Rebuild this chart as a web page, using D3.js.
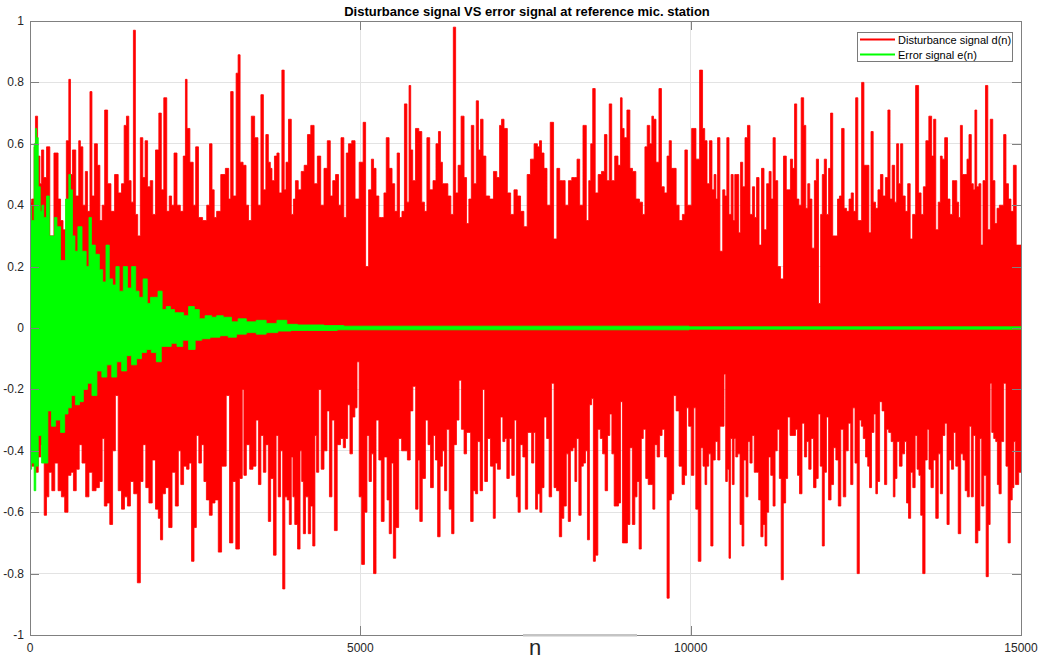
<!DOCTYPE html>
<html lang="en">
<head>
<meta charset="UTF-8">
<title>Disturbance signal VS error signal</title>
<style>
    body { margin: 0; background: #fff; }
    svg { display: block; font-family: "Liberation Sans", Arial, sans-serif; }
    .grid line { stroke: #e3e3e3; stroke-width: 1; shape-rendering: crispEdges; }
    .tick-label { font-size: 12px; fill: #262626; }
</style>
</head>
<body>
<svg id="chart" width="1050" height="661"></svg>
<script src="https://d3js.org/d3.v7.min.js"></script>
<script>
// [sample n, value]: upper peaks of d(n)
const dUpper = [[0,0.41],[50,0.42],[75,0.59],[90,0.69],[140,0.56],[160,0.47],[190,0.58],[225,0.49],[275,0.59],[325,0.3],[400,0.57],[450,0.42],[475,0.35],[525,0.32],[575,0.61],[600,0.81],[625,0.5],[660,0.58],[725,0.43],[750,0.61],[775,0.59],[825,0.4],[850,0.51],[890,0.38],[925,0.77],[950,0.43],[1000,0.6],[1040,0.53],[1075,0.35],[1110,0.4],[1150,0.71],[1200,0.47],[1250,0.38],[1310,0.5],[1360,0.44],[1410,0.47],[1440,0.66],[1480,0.69],[1510,0.48],[1550,0.41],[1580,0.97],[1610,0.37],[1650,0.3],[1690,0.62],[1725,0.49],[1760,0.61],[1800,0.46],[1840,0.48],[1875,0.37],[1925,0.58],[1975,0.7],[2000,0.45],[2050,0.75],[2090,0.38],[2125,0.43],[2160,0.4],[2200,0.57],[2250,0.4],[2300,0.38],[2340,0.56],[2365,0.81],[2390,0.65],[2450,0.54],[2490,0.4],[2525,0.59],[2575,0.36],[2650,0.35],[2700,0.4],[2735,0.6],[2775,0.45],[2800,0.36],[2850,0.38],[2925,0.5],[2990,0.52],[3025,0.42],[3050,0.77],[3100,0.43],[3140,0.83],[3160,0.89],[3200,0.54],[3250,0.53],[3290,0.4],[3325,0.35],[3375,0.69],[3425,0.62],[3475,0.4],[3515,0.76],[3550,0.45],[3590,0.63],[3625,0.54],[3650,0.52],[3675,0.48],[3725,0.56],[3750,0.57],[3790,0.44],[3835,0.84],[3860,0.45],[3890,0.54],[3935,0.68],[3975,0.37],[4000,0.42],[4035,0.48],[4085,0.45],[4125,0.51],[4175,0.53],[4225,0.63],[4275,0.66],[4325,0.47],[4375,0.56],[4425,0.4],[4475,0.52],[4525,0.61],[4565,0.43],[4600,0.48],[4650,0.5],[4690,0.4],[4725,0.62],[4775,0.36],[4800,0.57],[4840,0.6],[4900,0.61],[4940,0.42],
  [5025,0.54],[5060,0.67],[5100,0.2],[5150,0.45],[5185,0.55],[5215,0.52],[5260,0.43],[5300,0.36],[5340,0.36],[5375,0.44],[5410,0.62],[5460,0.52],[5500,0.47],[5540,0.38],[5575,0.57],[5610,0.36],[5650,0.38],[5685,0.73],[5725,0.41],[5750,0.79],[5775,0.58],[5810,0.48],[5860,0.65],[5910,0.64],[5950,0.41],[5990,0.38],[6025,0.62],[6075,0.45],[6125,0.48],[6165,0.6],[6200,0.64],[6225,0.54],[6260,0.47],[6300,0.47],[6350,0.43],[6390,0.37],[6425,0.98],[6460,0.44],[6500,0.53],[6550,0.69],[6590,0.49],[6625,0.34],[6660,0.42],[6700,0.66],[6735,0.47],[6775,0.74],[6800,0.58],[6840,0.68],[6875,0.56],[6925,0.43],[6990,0.42],[7040,0.51],[7090,0.49],[7125,0.66],[7150,0.68],[7200,0.65],[7250,0.44],[7300,0.37],[7350,0.45],[7400,0.43],[7450,0.38],[7500,0.33],[7550,0.5],[7600,0.55],[7660,0.6],[7700,0.59],[7725,0.61],[7760,0.57],[7800,0.52],[7850,0.4],[7900,0.67],[7950,0.29],[8000,0.52],[8035,0.48],[8075,0.48],[8125,0.4],[8175,0.48],[8225,0.49],[8260,0.49],[8300,0.55],[8340,0.4],[8400,0.66],[8440,0.35],[8475,0.48],[8500,0.6],[8535,0.78],[8575,0.44],[8625,0.5],[8675,0.51],[8715,0.63],[8750,0.48],[8785,0.73],[8825,0.48],[8875,0.56],[8925,0.53],[8950,0.75],[8975,0.65],[9010,0.62],[9060,0.71],[9100,0.52],[9140,0.51],[9200,0.42],[9250,0.41],[9290,0.37],[9325,0.59],[9360,0.66],[9400,0.6],[9425,0.69],[9450,0.68],[9500,0.54],[9540,0.78],[9575,0.46],[9625,0.44],[9660,0.56],[9690,0.61],[9725,0.52],[9760,0.52],[9800,0.4],[9850,0.35],[9900,0.37],[9925,0.58],[9975,0.4],
  [10055,0.65],[10105,0.55],[10165,0.84],[10195,0.65],[10230,0.61],[10265,0.47],[10305,0.61],[10340,0.45],[10370,0.5],[10395,0.42],[10420,0.62],[10465,0.25],[10505,0.45],[10530,0.43],[10565,0.62],[10595,0.37],[10630,0.5],[10655,0.35],[10680,0.5],[10715,0.5],[10740,0.31],[10770,0.54],[10805,0.46],[10840,0.62],[10880,0.66],[10915,0.37],[10955,0.46],[10980,0.36],[11015,0.49],[11055,0.27],[11090,0.52],[11130,0.32],[11170,0.47],[11205,0.51],[11230,0.42],[11265,0.62],[11295,0.48],[11340,0.2],[11380,0.16],[11430,0.56],[11465,0.45],[11490,0.45],[11530,0.55],[11555,0.52],[11590,0.73],[11620,0.42],[11655,0.4],[11690,0.75],[11730,0.66],[11755,0.39],[11790,0.47],[11815,0.42],[11855,0.26],[11890,0.48],[11915,0.55],[11955,0.08],[11980,0.37],[12005,0.5],[12040,0.55],[12070,0.37],[12105,0.52],[12130,0.7],[12170,0.3],[12205,0.3],[12240,0.42],[12265,0.43],[12305,0.65],[12340,0.39],[12380,0.38],[12415,0.42],[12445,0.44],[12480,0.38],[12515,0.75],[12545,0.35],[12570,0.35],[12605,0.8],[12640,0.53],[12680,0.53],[12715,0.31],[12745,0.64],[12780,0.41],[12815,0.39],[12855,0.45],[12890,0.5],[12930,0.43],[12965,0.49],[13005,0.71],[13030,0.42],[13070,0.53],[13105,0.41],[13130,0.6],[13165,0.47],[13190,0.6],[13230,0.43],[13265,0.38],[13305,0.47],[13340,0.29],[13380,0.37],[13430,0.79],[13470,0.44],[13505,0.37],[13540,0.46],[13580,0.61],[13630,0.69],[13665,0.56],[13690,0.68],[13730,0.32],[13765,0.41],[13795,0.56],[13820,0.55],[13870,0.62],[13905,0.42],[13945,0.37],[13980,0.48],[14015,0.48],[14040,0.41],[14070,0.36],[14095,0.66],[14130,0.5],[14170,0.5],[14195,0.55],[14230,0.63],[14265,0.47],[14290,0.45],[14315,0.71],[14345,0.46],[14380,0.47],[14405,0.27],[14445,0.48],[14480,0.79],[14515,0.32],[14555,0.68],[14590,0.48],[14620,0.34],[14655,0.39],[14690,0.4],[14720,0.4],[14755,0.63],[14790,0.47],[14830,0.42],[14865,0.38],[14905,0.53],[14950,0.27],[15000,0.27]];

// lower peaks of d(n)
const dLower = [[0,-0.42],[50,-0.45],[110,-0.47],[140,-0.42],[190,-0.38],[240,-0.61],[260,-0.55],[310,-0.47],[350,-0.53],[400,-0.44],[450,-0.53],[500,-0.55],[550,-0.6],[600,-0.48],[640,-0.47],[675,-0.53],[725,-0.46],[765,-0.38],[810,-0.44],[875,-0.55],[910,-0.47],[975,-0.53],[1025,-0.52],[1075,-0.5],[1110,-0.36],[1140,-0.58],[1190,-0.57],[1225,-0.64],[1275,-0.4],[1310,-0.22],[1360,-0.53],[1410,-0.59],[1450,-0.55],[1500,-0.58],[1540,-0.5],[1600,-0.54],[1650,-0.83],[1690,-0.5],[1730,-0.38],[1775,-0.52],[1825,-0.57],[1875,-0.43],[1925,-0.59],[1960,-0.62],[1990,-0.69],[2025,-0.54],[2075,-0.52],[2125,-0.65],[2175,-0.47],[2225,-0.58],[2265,-0.4],[2300,-0.51],[2350,-0.45],[2390,-0.46],[2425,-0.44],[2465,-0.76],[2500,-0.65],[2535,-0.35],[2575,-0.44],[2615,-0.38],[2650,-0.5],[2690,-0.56],[2740,-0.61],[2775,-0.57],[2825,-0.56],[2875,-0.73],[2925,-0.45],[2950,-0.45],[2990,-0.22],[3050,-0.7],[3090,-0.5],[3140,-0.72],[3200,-0.49],[3225,-0.2],[3250,-0.48],[3300,-0.38],[3350,-0.46],[3400,-0.45],[3440,-0.3],[3475,-0.51],[3515,-0.35],[3550,-0.47],[3590,-0.38],[3625,-0.63],[3660,-0.49],[3710,-0.74],[3740,-0.35],[3775,-0.55],[3810,-0.4],[3840,-0.85],[3875,-0.55],[3910,-0.56],[3940,-0.64],[3970,-0.42],[3990,-0.55],[4025,-0.64],[4075,-0.72],[4100,-0.4],[4125,-0.5],[4150,-0.67],[4190,-0.55],[4235,-0.67],[4260,-0.58],[4300,-0.71],[4325,-0.35],[4350,-0.47],[4390,-0.2],[4425,-0.46],[4475,-0.4],[4515,-0.27],[4550,-0.55],[4590,-0.3],[4625,-0.66],[4675,-0.38],
  [4725,-0.36],[4760,-0.39],[4790,-0.36],[4825,-0.25],[4860,-0.41],[4900,-0.29],[4935,-0.26],[4965,-0.11],[5000,-0.55],[5040,-0.77],[5085,-0.6],[5115,-0.35],[5150,-0.5],[5185,-0.41],[5215,-0.8],[5260,-0.3],[5300,-0.43],[5335,-0.63],[5385,-0.42],[5425,-0.56],[5450,-0.67],[5490,-0.44],[5510,-0.75],[5560,-0.65],[5600,-0.36],[5650,-0.4],[5690,-0.4],[5735,-0.43],[5775,-0.27],[5815,-0.19],[5860,-0.59],[5885,-0.43],[5915,-0.63],[5960,-0.49],[6010,-0.3],[6040,-0.38],[6085,-0.52],[6125,-0.35],[6150,-0.43],[6190,-0.68],[6225,-0.45],[6260,-0.4],[6290,-0.53],[6325,-0.33],[6365,-0.59],[6400,-0.67],[6435,-0.38],[6475,-0.3],[6510,-0.17],[6550,-0.33],[6590,-0.41],[6625,-0.34],[6650,-0.34],[6690,-0.63],[6725,-0.53],[6760,-0.54],[6790,-0.37],[6835,-0.53],[6865,-0.2],[6900,-0.5],[6950,-0.36],[6990,-0.45],[7035,-0.62],[7050,-0.44],[7100,-0.46],[7140,-0.29],[7175,-0.37],[7200,-0.36],[7235,-0.49],[7275,-0.36],[7310,-0.48],[7350,-0.3],[7375,-0.55],[7400,-0.6],[7440,-0.38],[7480,-0.42],[7515,-0.59],[7550,-0.34],[7575,-0.34],[7610,-0.44],[7640,-0.34],[7665,-0.59],[7700,-0.54],[7735,-0.6],[7760,-0.52],[7800,-0.29],[7840,-0.36],[7875,-0.55],[7915,-0.18],[7950,-0.52],[7990,-0.53],[8035,-0.68],[8060,-0.62],[8100,-0.58],[8135,-0.41],[8160,-0.63],[8200,-0.4],[8235,-0.39],[8260,-0.5],[8290,-0.36],[8325,-0.61],[8360,-0.45],[8390,-0.44],[8425,-0.4],[8450,-0.69],[8485,-0.25],[8515,-0.23],[8540,-0.76],[8575,-0.74],[8615,-0.33],[8650,-0.36],[8685,-0.41],[8725,-0.53],[8760,-0.35],[8790,-0.28],[8825,-0.41],[8860,-0.58],[8890,-0.58],[8925,-0.57],[8950,-0.24],[8985,-0.7],[9025,-0.7],[9060,-0.64],[9100,-0.39],[9135,-0.64],[9175,-0.55],[9200,-0.5],[9240,-0.72],[9265,-0.36],[9300,-0.33],[9340,-0.49],[9375,-0.51],[9415,-0.51],[9440,-0.59],[9475,-0.38],[9510,-0.42],[9550,-0.35],[9585,-0.33],[9625,-0.42],[9660,-0.88],[9690,-0.56],[9725,-0.54],[9760,-0.22],[9800,-0.27],[9850,-0.45],[9890,-0.51],[9925,-0.48],[9950,-0.26],[9990,-0.32],
  [10030,-0.48],[10065,-0.26],[10090,-0.59],[10140,-0.76],[10170,-0.39],[10205,-0.45],[10230,-0.51],[10255,-0.45],[10290,-0.41],[10320,-0.71],[10355,-0.43],[10390,-0.37],[10430,-0.43],[10455,-0.32],[10490,-0.32],[10520,-0.15],[10540,-0.5],[10570,-0.46],[10590,-0.75],[10615,-0.36],[10645,-0.51],[10670,-0.36],[10695,-0.42],[10730,-0.41],[10765,-0.64],[10790,-0.71],[10820,-0.43],[10855,-0.55],[10880,-0.37],[10915,-0.44],[10945,-0.35],[10980,-0.47],[11015,-0.47],[11045,-0.56],[11080,-0.68],[11110,-0.64],[11140,-0.71],[11165,-0.6],[11195,-0.42],[11230,-0.48],[11265,-0.58],[11290,-0.4],[11330,-0.33],[11355,-0.49],[11385,-0.82],[11420,-0.57],[11455,-0.49],[11480,-0.29],[11530,-0.35],[11570,-0.35],[11605,-0.33],[11630,-0.48],[11665,-0.54],[11705,-0.31],[11740,-0.42],[11770,-0.37],[11805,-0.46],[11840,-0.36],[11880,-0.52],[11915,-0.49],[11945,-0.28],[11980,-0.45],[12005,-0.71],[12040,-0.47],[12070,-0.29],[12105,-0.56],[12145,-0.51],[12180,-0.39],[12215,-0.43],[12255,-0.58],[12290,-0.33],[12330,-0.55],[12365,-0.4],[12405,-0.31],[12440,-0.51],[12470,-0.26],[12505,-0.44],[12535,-0.8],[12570,-0.3],[12595,-0.32],[12630,-0.36],[12665,-0.42],[12695,-0.45],[12720,-0.52],[12755,-0.34],[12790,-0.28],[12815,-0.54],[12840,-0.5],[12880,-0.24],[12915,-0.27],[12955,-0.51],[12980,-0.33],[13015,-0.34],[13055,-0.37],[13080,-0.55],[13105,-0.49],[13140,-0.37],[13180,-0.45],[13220,-0.41],[13255,-0.37],[13280,-0.57],[13315,-0.62],[13345,-0.47],[13380,-0.52],[13415,-0.35],[13440,-0.46],[13470,-0.48],[13495,-0.61],[13530,-0.8],[13565,-0.43],[13595,-0.33],[13620,-0.46],[13655,-0.52],[13690,-0.43],[13730,-0.62],[13765,-0.41],[13795,-0.54],[13830,-0.35],[13865,-0.31],[13895,-0.64],[13930,-0.43],[13965,-0.46],[13995,-0.34],[14030,-0.45],[14070,-0.67],[14105,-0.41],[14140,-0.43],[14170,-0.53],[14205,-0.55],[14230,-0.32],[14265,-0.55],[14290,-0.35],[14330,-0.7],[14365,-0.66],[14390,-0.36],[14420,-0.58],[14455,-0.48],[14490,-0.81],[14520,-0.64],[14545,-0.18],[14570,-0.34],[14605,-0.36],[14630,-0.37],[14655,-0.51],[14680,-0.54],[14720,-0.37],[14755,-0.18],[14790,-0.45],[14820,-0.7],[14855,-0.56],[14880,-0.52],[14905,-0.37],[14930,-0.51],[15000,-0.47]];

// upper and lower envelope of e(n)
const eUpper = [[0,0.4],[50,0.35],[75,0.6],[90,0.65],[110,0.62],[140,0.46],[170,0.38],[190,0.4],[225,0.36],[275,0.43],[310,0.3],[350,0.3],[390,0.36],[425,0.33],[500,0.22],[575,0.42],[600,0.5],[625,0.45],[660,0.3],[700,0.25],[750,0.33],[825,0.25],[875,0.2],[910,0.36],[950,0.27],[1025,0.24],[1075,0.19],[1125,0.15],[1175,0.27],[1225,0.16],[1275,0.14],[1325,0.2],[1375,0.12],[1450,0.2],[1500,0.13],[1575,0.2],[1625,0.12],[1675,0.1],[1750,0.16],[1800,0.08],[1850,0.1],[1900,0.1],[1975,0.12],[2025,0.06],[2100,0.07],[2150,0.06],[2225,0.05],[2300,0.05],[2350,0.04],[2450,0.07],[2525,0.06],[2600,0.03],[2700,0.04],[2800,0.035],[2850,0.04],[3000,0.035],[3100,0.02],[3200,0.03],[3350,0.02],[3500,0.025],[3650,0.015],[3825,0.025],[3950,0.012],[4150,0.01],[4350,0.01],[4550,0.008],[4950,0.006],[15000,0.004]];

const eLower = [[0,-0.46],[50,-0.44],[75,-0.53],[100,-0.45],[150,-0.35],[200,-0.44],[240,-0.44],[300,-0.27],[350,-0.32],[425,-0.3],[500,-0.34],[550,-0.28],[600,-0.26],[650,-0.22],[725,-0.25],[775,-0.24],[840,-0.2],[900,-0.18],[975,-0.22],[1050,-0.14],[1125,-0.16],[1200,-0.12],[1275,-0.16],[1350,-0.11],[1425,-0.14],[1500,-0.09],[1575,-0.12],[1650,-0.1],[1725,-0.08],[1800,-0.07],[1875,-0.08],[1950,-0.11],[2025,-0.06],[2100,-0.06],[2175,-0.05],[2275,-0.06],[2350,-0.04],[2450,-0.07],[2550,-0.04],[2650,-0.035],[2800,-0.03],[2950,-0.025],[3050,-0.03],[3200,-0.02],[3350,-0.015],[3500,-0.02],[3650,-0.015],[3850,-0.01],[4050,-0.008],[4350,-0.008],[4950,-0.006],[15000,-0.004]];

const xTicks = [0, 5000, 10000, 15000];
const yTicks = [-1, -0.8, -0.6, -0.4, -0.2, 0, 0.2, 0.4, 0.6, 0.8, 1];
const legendItems = [
    { label: "Disturbance signal d(n)", color: "#ff0000" },
    { label: "Error signal e(n)", color: "#00ff00" }
];

const svg = d3.select("#chart");
const margin = { left: 30, right: 29, top: 21, bottom: 26 };
const W = 1050, H = 661;

const x = d3.scaleLinear().domain([0, 15000]).range([margin.left, W - margin.right]);
const y = d3.scaleLinear().domain([-1, 1]).range([H - margin.bottom, margin.top]);

svg.append("clipPath").attr("id", "plotClip")
    .append("rect")
    .attr("x", x(0)).attr("y", y(1))
    .attr("width", x(15000) - x(0)).attr("height", y(-1) - y(1));

// grid
const grid = svg.append("g").attr("class", "grid");
grid.selectAll(".gy").data(yTicks).enter().append("line")
    .attr("x1", x(0)).attr("x2", x(15000))
    .attr("y1", d => y(d)).attr("y2", d => y(d));
grid.selectAll(".gx").data(xTicks).enter().append("line")
    .attr("y1", y(-1)).attr("y2", y(1))
    .attr("x1", d => x(d)).attr("x2", d => x(d));

const plot = svg.append("g").attr("clip-path", "url(#plotClip)");

function envelope(data, color) {
    const area = d3.area()
        .curve(d3.curveStep)
        .x(d => x(d[0]))
        .y0(y(0))
        .y1(d => y(d[1]));
    plot.append("path")
        .datum(data)
        .attr("d", area)
        .attr("fill", color)
        .attr("stroke", color)
        .attr("stroke-width", 0.8);
}

envelope(dUpper, "#ff0000");
envelope(dLower, "#ff0000");
envelope(eUpper, "#00ff00");
envelope(eLower, "#00ff00");

// axes box
const axisColor = "#808080";
svg.append("rect")
    .attr("x", x(0) + 0.5).attr("y", y(1) + 0.5)
    .attr("width", x(15000) - x(0)).attr("height", y(-1) - y(1))
    .attr("fill", "none").attr("stroke", axisColor).attr("stroke-width", 1);

// odd lighter patch on the bottom axis behind the label
svg.append("rect")
    .attr("x", 523).attr("y", y(-1) - 1)
    .attr("width", 114).attr("height", 2.5)
    .attr("fill", "#c4c4c4");

// inner ticks on all four sides
const tickLen = 9;
const ticks = svg.append("g").attr("stroke", axisColor).attr("stroke-width", 1);
yTicks.forEach(v => {
    const yy = Math.round(y(v)) + 0.5;
    ticks.append("line").attr("x1", x(0)).attr("x2", x(0) + tickLen).attr("y1", yy).attr("y2", yy);
    ticks.append("line").attr("x1", x(15000)).attr("x2", x(15000) - tickLen).attr("y1", yy).attr("y2", yy);
});
xTicks.forEach(v => {
    const xx = Math.round(x(v)) + 0.5;
    ticks.append("line").attr("x1", xx).attr("x2", xx).attr("y1", y(-1)).attr("y2", y(-1) - tickLen);
    ticks.append("line").attr("x1", xx).attr("x2", xx).attr("y1", y(1)).attr("y2", y(1) + tickLen);
});

// tick labels (plain hyphen for negatives, like MATLAB)
svg.selectAll(".ylab").data(yTicks).enter().append("text")
    .attr("class", "tick-label")
    .attr("x", x(0) - 6)
    .attr("y", d => y(d) + 4)
    .attr("text-anchor", "end")
    .text(d => String(d));

svg.selectAll(".xlab").data(xTicks).enter().append("text")
    .attr("class", "tick-label")
    .attr("x", d => x(d))
    .attr("y", y(-1) + 17)
    .attr("text-anchor", "middle")
    .text(d => d);

// axis label and title
svg.append("text")
    .attr("x", 535).attr("y", 655)
    .attr("text-anchor", "middle")
    .attr("font-size", 22).attr("fill", "#262626")
    .text("n");

svg.append("text")
    .attr("x", 527).attr("y", 16)
    .attr("text-anchor", "middle")
    .attr("font-size", 13).attr("font-weight", "bold").attr("fill", "#000")
    .text("Disturbance signal VS error signal at reference mic. station");

// legend
const legend = svg.append("g").attr("transform", "translate(857,32)");
legend.append("rect")
    .attr("x", 0.5).attr("y", 0.5).attr("width", 155).attr("height", 29)
    .attr("fill", "#fff").attr("stroke", "#7a7a7a").attr("stroke-width", 1);
legendItems.forEach((item, i) => {
    const ly = 7.5 + i * 15;
    legend.append("line")
        .attr("x1", 3).attr("x2", 38).attr("y1", ly).attr("y2", ly)
        .attr("stroke", item.color).attr("stroke-width", 2);
    legend.append("text")
        .attr("x", 41).attr("y", ly + 4)
        .attr("font-size", 11).attr("fill", "#000")
        .text(item.label);
});
</script>
</body>
</html>
